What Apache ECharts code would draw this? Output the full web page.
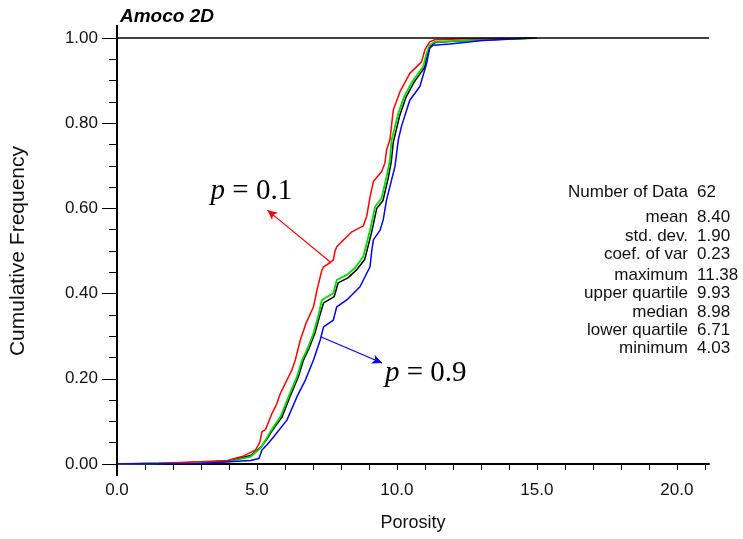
<!DOCTYPE html>
<html>
<head>
<meta charset="utf-8">
<script src="https://cdn.jsdelivr.net/npm/echarts@6/dist/echarts.min.js"></script>
<style>html,body{margin:0;padding:0;background:#fff}#c{width:743px;height:539px}</style>
</head>
<body>
<div id="c"></div>
<script>
// ---- data ----
const titleText = 'Amoco 2D';
const xName = 'Porosity';
const yName = 'Cumulative Frequency';
const xTickLabels = ['0.0','5.0','10.0','15.0','20.0'];
const yTickLabels = ['0.00','0.20','0.40','0.60','0.80','1.00'];

const redP01 = [[0,0],[1.5,0.002],[3.0,0.005],[3.95,0.008],[4.5,0.018],[4.95,0.033],[5.1,0.05],[5.18,0.076],[5.30,0.080],[5.54,0.119],[5.7,0.14],[5.84,0.166],[6.01,0.189],[6.25,0.221],[6.37,0.244],[6.55,0.291],[6.75,0.33],[7.02,0.369],[7.15,0.41],[7.32,0.455],[7.38,0.463],[7.62,0.473],[7.73,0.479],[7.79,0.50],[7.85,0.510],[8.09,0.526],[8.39,0.545],[8.80,0.559],[8.92,0.581],[9.04,0.627],[9.16,0.663],[9.45,0.686],[9.57,0.706],[9.63,0.737],[9.75,0.761],[9.87,0.831],[10.11,0.874],[10.46,0.917],[10.88,0.944],[11.0,0.972],[11.17,0.991],[11.35,0.996],[12.5,0.998],[15,1.0]];
const greenMid = [[0,0],[2,0.002],[4.0,0.006],[4.77,0.017],[5.12,0.037],[5.3,0.055],[5.48,0.076],[5.84,0.111],[6.13,0.158],[6.43,0.205],[6.61,0.244],[6.8,0.27],[7.02,0.307],[7.2,0.35],[7.32,0.385],[7.73,0.401],[7.85,0.432],[8.21,0.444],[8.5,0.46],[8.80,0.487],[9.04,0.549],[9.22,0.604],[9.45,0.624],[9.63,0.674],[9.75,0.714],[9.81,0.761],[10.05,0.823],[10.28,0.866],[10.58,0.901],[10.94,0.933],[11.06,0.964],[11.17,0.983],[11.35,0.991],[12.7,0.995],[15,1.0]];
const blackData = [[0,0],[2,0.002],[4.0,0.007],[4.77,0.02],[5.15,0.04],[5.35,0.058],[5.52,0.076],[5.9,0.111],[6.18,0.158],[6.48,0.205],[6.66,0.244],[6.85,0.27],[7.07,0.307],[7.25,0.35],[7.38,0.378],[7.76,0.393],[7.9,0.425],[8.25,0.437],[8.55,0.455],[8.85,0.48],[9.1,0.545],[9.28,0.60],[9.5,0.618],[9.68,0.668],[9.8,0.71],[9.87,0.755],[10.1,0.818],[10.33,0.862],[10.62,0.897],[10.98,0.93],[11.1,0.962],[11.2,0.982],[11.38,0.99],[12.7,0.995],[15,1.0]];
const blueP09 = [[0,0],[3,0.001],[4.77,0.008],[5.07,0.013],[5.18,0.033],[5.36,0.045],[5.60,0.064],[6.07,0.103],[6.43,0.158],[6.73,0.197],[7.02,0.244],[7.26,0.291],[7.38,0.322],[7.73,0.338],[7.85,0.369],[8.21,0.385],[8.68,0.416],[9.04,0.463],[9.1,0.50],[9.16,0.526],[9.40,0.549],[9.51,0.573],[9.63,0.620],[9.75,0.651],[9.93,0.698],[10.05,0.761],[10.16,0.792],[10.46,0.854],[10.82,0.886],[11.06,0.940],[11.17,0.976],[11.29,0.983],[11.89,0.986],[13.07,0.994],[14.85,1.0]];

const statLabels = ['Number of Data','mean','std. dev.','coef. of var','maximum','upper quartile','median','lower quartile','minimum'];
const statValues = ['62','8.40','1.90','0.23','11.38','9.93','8.98','6.71','4.03'];

// annotation anchors (data space)
const redArrow = [[7.62,0.474],[5.37,0.596]];
const blueArrow = [[7.30,0.298],[9.47,0.237]];
const redLabelPos = [4.80,0.640];
const blueLabelPos = [11.03,0.212];
const redLabel = '0.1';
const blueLabel = '0.9';

// ---- chart ----
const chart = echarts.init(document.getElementById('c'), null, {renderer:'canvas'});
const FONT = 'Liberation Sans, Arial, Helvetica, sans-serif';
const SERIF = 'Liberation Serif, Times New Roman, serif';

function pLabel(pos, val){
  return {
    symbol:'circle', symbolSize:0,
    label:{show:true, position:'inside', formatter:'{i|p}{n| = '+val+'}',
      rich:{i:{fontFamily:SERIF,fontStyle:'italic',fontSize:29,color:'#000'},
            n:{fontFamily:SERIF,fontSize:29,color:'#000'}}},
    data:[{coord:pos}]
  };
}
function arrow(pts,color){
  return {silent:true, symbol:['none','arrow'], symbolSize:[7,10],
    label:{show:false}, lineStyle:{color:color,width:1.2,type:'solid'},
    emphasis:{disabled:true},
    data:[[{coord:pts[0]},{coord:pts[1]}]]};
}

const stats = [];
const rowY = [192,217,236,254,275,293,312,330,348];
statLabels.forEach((s,i)=>{
  stats.push({type:'text',x:688,y:rowY[i],style:{text:s,font:'17px '+FONT,fill:'#111',textAlign:'right',textVerticalAlign:'middle'}});
  stats.push({type:'text',x:697,y:rowY[i],style:{text:statValues[i],font:'17px '+FONT,fill:'#111',textAlign:'left',textVerticalAlign:'middle'}});
});

chart.setOption({
  animation:false,
  backgroundColor:'#fff',
  title:{text:titleText,left:115,top:2,textStyle:{fontFamily:FONT,fontSize:19,fontWeight:'bold',fontStyle:'italic',color:'#000'}},
  grid:{left:116,right:34,top:38,bottom:75,containLabel:false},
  xAxis:{type:'value',min:0,max:21.15,interval:1,
    name:xName,nameLocation:'middle',nameGap:50,
    nameTextStyle:{fontFamily:FONT,fontSize:18,color:'#111'},
    axisLine:{show:true,onZero:false,lineStyle:{color:'#000',width:2}},
    axisTick:{show:true,length:6,lineStyle:{color:'#000',width:1}},
    axisLabel:{margin:18,fontFamily:FONT,fontSize:17,color:'#111',showMaxLabel:false,
      formatter:v=>{const k=Math.round(v); if(Math.abs(v-k)<1e-6 && k%5===0){return xTickLabels[k/5]||'';} return '';}},
    splitLine:{show:false}},
  yAxis:{type:'value',min:0,max:1,interval:0.2,
    name:yName,nameLocation:'middle',nameGap:88,nameRotate:90,
    nameTextStyle:{fontFamily:FONT,fontSize:21,color:'#111'},
    axisLine:{show:true,onZero:false,lineStyle:{color:'#000',width:2}},
    axisTick:{show:true,length:15,lineStyle:{color:'#000',width:1}},
    minorTick:{show:true,splitNumber:4,length:8,lineStyle:{color:'#000',width:1}},
    axisLabel:{margin:19,fontFamily:FONT,fontSize:17,color:'#111',verticalAlign:'middle',padding:[0,0,8,0],
      formatter:v=>yTickLabels[Math.round(v*5)]||''},
    splitLine:{show:false}},
  series:[
    {type:'line',name:'data',data:blackData,showSymbol:false,symbol:'none',lineStyle:{color:'#000',width:1.5},z:2,
      markLine:{silent:true,symbol:['none','none'],label:{show:false},lineStyle:{color:'#000',width:1.5,type:'solid'},data:[{yAxis:1}]}},
    {type:'line',name:'mid',data:greenMid,showSymbol:false,symbol:'none',lineStyle:{color:'#00dd00',width:1.8},z:3},
    {type:'line',name:'p0.1',data:redP01,showSymbol:false,symbol:'none',lineStyle:{color:'#ff0000',width:1.5},z:4,
      markLine:arrow(redArrow,'#ff0000'),markPoint:pLabel(redLabelPos,redLabel)},
    {type:'line',name:'p0.9',data:blueP09,showSymbol:false,symbol:'none',lineStyle:{color:'#0000ff',width:1.5},z:4,
      markLine:arrow(blueArrow,'#0000ff'),markPoint:pLabel(blueLabelPos,blueLabel)}
  ],
  graphic:stats
});

// extend the y-axis line slightly beyond the plot, as in the reference
const p0 = chart.convertToPixel({gridIndex:0},[0,0]);
const p1 = chart.convertToPixel({gridIndex:0},[0,1]);
chart.setOption({graphic:stats.concat([
  {type:'line',shape:{x1:p0[0],y1:p1[1]-13,x2:p0[0],y2:p0[1]+12},style:{stroke:'#000',lineWidth:2},z:10}
])});
</script>
</body>
</html>
